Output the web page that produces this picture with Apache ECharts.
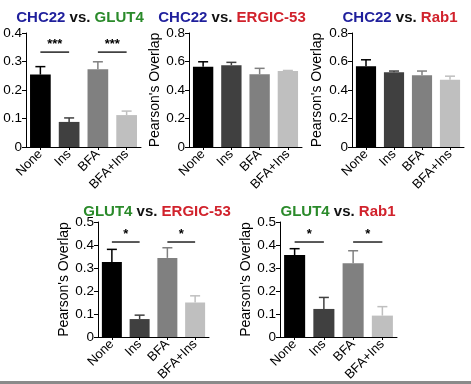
<!DOCTYPE html>
<html><head><meta charset="utf-8">
<script src="https://cdn.jsdelivr.net/npm/echarts@6/dist/echarts.min.js"></script>
<style>html,body{margin:0;padding:0;background:#fff}#c{width:471px;height:384px}</style>
</head><body><div id="c"></div>
<script>
var categories = ['None', 'Ins', 'BFA', 'BFA+Ins'];
var barColors = ['#000000', '#404040', '#808080', '#bfbfbf'];

var p1Mean = [0.254, 0.088, 0.273, 0.112];
var p1Err  = [0.028, 0.014, 0.026, 0.014];
var p2Mean = [0.563, 0.574, 0.510, 0.533];
var p2Err  = [0.035, 0.020, 0.042, 0.004];
var p3Mean = [0.567, 0.525, 0.503, 0.472];
var p3Err  = [0.045, 0.008, 0.030, 0.025];
var p4Mean = [0.326, 0.078, 0.344, 0.150];
var p4Err  = [0.055, 0.017, 0.044, 0.029];
var p5Mean = [0.356, 0.122, 0.321, 0.093];
var p5Err  = [0.028, 0.050, 0.054, 0.039];

var yMax = [0.4, 0.8, 0.8, 0.5, 0.5];
var yInterval = [0.1, 0.2, 0.2, 0.1, 0.1];

// significance brackets: [fromCat, toCat, y, label]
var p1Sig = [[0, 1, 0.333, '***'], [2, 3, 0.333, '***']];
var p4Sig = [[0, 1, 0.413, '*'], [2, 3, 0.413, '*']];
var p5Sig = [[0, 1, 0.413, '*'], [2, 3, 0.413, '*']];

var titles = [
  [['blue', 'CHC22'], ['blk', ' vs. '], ['green', 'GLUT4']],
  [['blue', 'CHC22'], ['blk', ' vs. '], ['red', 'ERGIC-53']],
  [['blue', 'CHC22'], ['blk', ' vs. '], ['red', 'Rab1']],
  [['green', 'GLUT4'], ['blk', ' vs. '], ['red', 'ERGIC-53']],
  [['green', 'GLUT4'], ['blk', ' vs. '], ['red', 'Rab1']]
];
var yNames = ['', "Pearson's Overlap", "Pearson's Overlap", "Pearson's Overlap", "Pearson's Overlap"];

var means = [p1Mean, p2Mean, p3Mean, p4Mean, p5Mean];
var errs = [p1Err, p2Err, p3Err, p4Err, p5Err];
var sigs = [p1Sig, null, null, p4Sig, p5Sig];

var grids = [
  {left: 26, top: 33, width: 115, height: 114},
  {left: 189, top: 33, width: 113, height: 114},
  {left: 352, top: 33, width: 112, height: 114},
  {left: 98, top: 222, width: 111, height: 115},
  {left: 280, top: 222, width: 117, height: 115}
];
var titleCenters = [[75, 5], [227, 5], [395, 5], [152, 199], [333, 199]];
var nameGaps = [26, 26, 28, 17, 25];

var FONT = 'Liberation Sans, Arial, sans-serif';
var rich = {
  blue: {color: '#1f1f9c', fontWeight: 'bold', fontSize: 15, fontFamily: FONT},
  green: {color: '#2a8a2a', fontWeight: 'bold', fontSize: 15, fontFamily: FONT},
  red: {color: '#d1222c', fontWeight: 'bold', fontSize: 15, fontFamily: FONT},
  blk: {color: '#111', fontWeight: 'bold', fontSize: 15, fontFamily: FONT}
};

var option = {
  animation: false,
  backgroundColor: '#fff',
  title: [], grid: [], xAxis: [], yAxis: [], series: [],
  graphic: [{type: 'rect', shape: {x: 0, y: 381, width: 471, height: 3}, style: {fill: '#8a8a8a'}}]
};

for (var i = 0; i < 5; i++) {
  (function (i) {
    option.title.push({
      text: titles[i].map(function (p) { return '{' + p[0] + '|' + p[1] + '}'; }).join(''),
      left: titleCenters[i][0], top: titleCenters[i][1], textAlign: 'center',
      textStyle: {rich: rich}
    });
    option.grid.push(grids[i]);
    option.xAxis.push({
      type: 'category', gridIndex: i, data: categories,
      axisLine: {lineStyle: {color: '#000', width: 1}},
      axisTick: {show: true, alignWithLabel: true, length: 3, lineStyle: {color: '#000'}},
      axisLabel: {rotate: 45, color: '#000', fontSize: 13, fontFamily: FONT, margin: 5, interval: 0}
    });
    option.yAxis.push({
      type: 'value', gridIndex: i, min: 0, max: yMax[i], interval: yInterval[i],
      name: yNames[i], nameLocation: 'middle', nameGap: nameGaps[i], nameRotate: 90,
      nameTextStyle: {color: '#000', fontSize: 14, fontFamily: FONT},
      splitLine: {show: false},
      axisLine: {show: true, lineStyle: {color: '#000', width: 1}},
      axisTick: {show: true, length: 4, lineStyle: {color: '#000'}},
      axisLabel: {color: '#000', fontSize: 13.5, fontFamily: FONT, margin: 4,
        formatter: function (v) { return v === 0 ? '0' : v.toFixed(1); }}
    });
    option.series.push({
      type: 'bar', xAxisIndex: i, yAxisIndex: i, barWidth: '72%',
      data: means[i].map(function (v, k) { return {value: v, itemStyle: {color: barColors[k]}}; })
    });
    option.series.push({
      type: 'custom', xAxisIndex: i, yAxisIndex: i, z: 1,
      data: means[i].map(function (v, k) { return [k, v, v + errs[i][k]]; }),
      renderItem: function (params, api) {
        var k = api.value(0);
        var a = api.coord([k, api.value(1)]);
        var b = api.coord([k, api.value(2)]);
        var c = barColors[k];
        return {type: 'group', children: [
          {type: 'line', shape: {x1: a[0], y1: a[1], x2: b[0], y2: b[1]}, style: {stroke: c, lineWidth: 1.5}},
          {type: 'line', shape: {x1: b[0] - 5, y1: b[1], x2: b[0] + 5, y2: b[1]}, style: {stroke: c, lineWidth: 1.5}}
        ]};
      }
    });
    if (sigs[i]) {
      option.series.push({
        type: 'custom', xAxisIndex: i, yAxisIndex: i,
        data: sigs[i].map(function (s) { return [s[0], s[1], s[2]]; }),
        renderItem: function (params, api) {
          var s = sigs[i][params.dataIndex];
          var a = api.coord([api.value(0), api.value(2)]);
          var b = api.coord([api.value(1), api.value(2)]);
          return {type: 'group', children: [
            {type: 'line', shape: {x1: a[0], y1: a[1], x2: b[0], y2: b[1]}, style: {stroke: '#000', lineWidth: 1.3}},
            {type: 'text', x: (a[0] + b[0]) / 2, y: a[1] - 1,
              style: {text: s[3], fill: '#000', font: 'bold 13px ' + FONT, align: 'center', verticalAlign: 'bottom'}}
          ]};
        }
      });
    }
  })(i);
}

var chart = echarts.init(document.getElementById('c'));
chart.setOption(option);
</script>
</body></html>
